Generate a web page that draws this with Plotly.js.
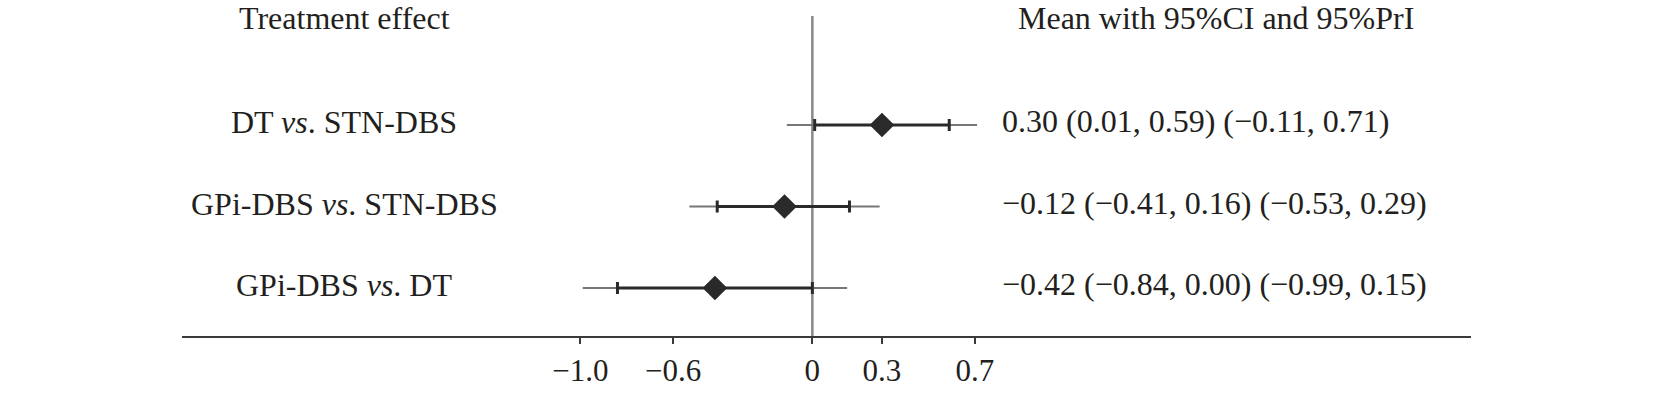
<!DOCTYPE html>
<html>
<head>
<meta charset="utf-8">
<script src="https://cdn.plot.ly/plotly-3.0.1.min.js"></script>
<style>
  html, body { margin: 0; padding: 0; background: #ffffff; }
  #chart { width: 1654px; height: 394px; }
</style>
</head>
<body>
<div id="chart"></div>
<script>
// ---- data ----
const comparisons = ["DT <i>vs</i>. STN-DBS", "GPi-DBS <i>vs</i>. STN-DBS", "GPi-DBS <i>vs</i>. DT"];
const means  = [0.30, -0.12, -0.42];
const ciLow  = [0.01, -0.41, -0.84];
const ciHigh = [0.59,  0.16,  0.00];
const prLow  = [-0.11, -0.53, -0.99];
const prHigh = [0.71,  0.29,  0.15];
const tickValues = [-1.0, -0.6, 0, 0.3, 0.7];
const tickLabels = ["\u22121.0", "\u22120.6", "0", "0.3", "0.7"];
const headerLeft = "Treatment effect";
const headerRight = "Mean with 95%CI and 95%PrI";

// ---- build ----
const FONT = "Liberation Serif, Times New Roman, serif";
const TXT = "#231f20";
const rows = comparisons.map((_, i) => i + 1);

function fmt(v) {
  const s = Math.abs(v).toFixed(2);
  return (v < 0 ? "\u2212" : "") + s;
}

const prX = [], prY = [];
rows.forEach((r, i) => { prX.push(prLow[i], prHigh[i], null); prY.push(r, r, null); });

const traces = [
  {
    type: "scatter", mode: "lines", x: prX, y: prY,
    line: { color: "#777777", width: 2.2 },
    hoverinfo: "skip", showlegend: false
  },
  {
    type: "scatter", mode: "markers", x: means, y: rows,
    marker: { symbol: "diamond", size: 19, color: "#2a2a2a", line: { width: 0 } },
    error_x: {
      type: "data", symmetric: false,
      array: means.map((m, i) => ciHigh[i] - m),
      arrayminus: means.map((m, i) => m - ciLow[i]),
      color: "#2a2a2a", thickness: 3, width: 6
    },
    hoverinfo: "skip", showlegend: false
  }
];

const annotations = [];
const leftX = (344 - 182) / 1289;
const rightX = (1000 - 182) / 1289;
const headY = 1 - 18 / 336;
const lineTopY = 1 - 16 / 336;
annotations.push({ xref: "paper", yref: "paper", x: leftX, y: headY, xanchor: "center", yanchor: "middle",
  text: headerLeft, showarrow: false, font: { family: FONT, size: 32, color: TXT } });
annotations.push({ xref: "paper", yref: "paper", x: (1016 - 182) / 1289, y: headY, xanchor: "left", yanchor: "middle",
  text: headerRight, showarrow: false, font: { family: FONT, size: 32, color: TXT } });
rows.forEach((r, i) => {
  annotations.push({ xref: "paper", yref: "y", x: leftX, y: r, yshift: 3, xanchor: "center", yanchor: "middle",
    text: comparisons[i], showarrow: false, font: { family: FONT, size: 32, color: TXT } });
  annotations.push({ xref: "paper", yref: "y", x: rightX, y: r, yshift: 4, xanchor: "left", yanchor: "middle",
    text: fmt(means[i]) + " (" + fmt(ciLow[i]) + ", " + fmt(ciHigh[i]) + ") (" + fmt(prLow[i]) + ", " + fmt(prHigh[i]) + ")",
    showarrow: false, font: { family: FONT, size: 32, color: TXT } });
});

const layout = {
  width: 1654, height: 394,
  margin: { l: 182, r: 183, t: 0, b: 58, pad: 0 },
  paper_bgcolor: "#ffffff", plot_bgcolor: "#ffffff",
  showlegend: false,
  xaxis: {
    range: [-2.717, 2.839], fixedrange: true,
    showgrid: false, zeroline: false,
    showline: true, linecolor: "#3a3a3a", linewidth: 2,
    ticks: "outside", ticklen: 6, tickwidth: 2, tickcolor: "#3a3a3a",
    tickmode: "array", tickvals: tickValues, ticktext: tickLabels,
    tickfont: { family: FONT, size: 31, color: TXT }
  },
  yaxis: {
    range: [3.589, -0.534], fixedrange: true,
    visible: false, showgrid: false, zeroline: false
  },
  shapes: [{
    type: "line", layer: "below", xref: "x", yref: "paper",
    x0: 0, x1: 0, y0: 0, y1: lineTopY,
    line: { color: "#888888", width: 2.5 }
  }],
  annotations: annotations
};

Plotly.newPlot("chart", traces, layout, { displayModeBar: false, staticPlot: true });
</script>
</body>
</html>
